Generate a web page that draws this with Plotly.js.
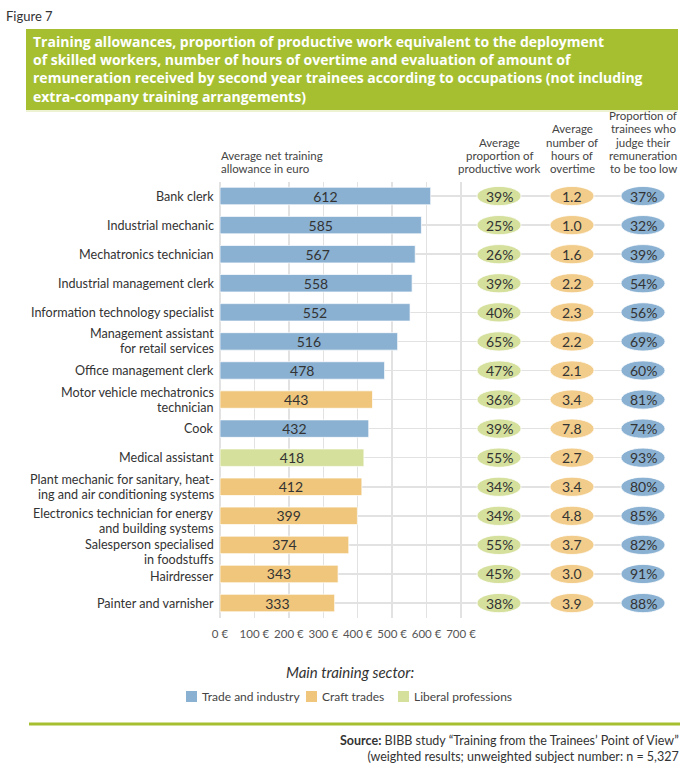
<!DOCTYPE html>
<html>
<head>
<meta charset="utf-8">
<script src="https://cdn.plot.ly/plotly-3.0.1.min.js"></script>
<style>html,body{margin:0;padding:0;background:#fff;}#chart{width:700px;height:774px;}</style>
</head>
<body>
<div id="chart"></div>
<script>
// ---- Data ----
const categories = [
  "Bank clerk",
  "Industrial mechanic",
  "Mechatronics technician",
  "Industrial management clerk",
  "Information technology specialist",
  "Management assistant<br>for retail services",
  "Office management clerk",
  "Motor vehicle mechatronics<br>technician",
  "Cook",
  "Medical assistant",
  "Plant mechanic for sanitary, heat-<br>ing and air conditioning systems",
  "Electronics technician for energy<br>and building systems",
  "Salesperson specialised<br>in foodstuffs",
  "Hairdresser",
  "Painter and varnisher"
];
const allowance = [612, 585, 567, 558, 552, 516, 478, 443, 432, 418, 412, 399, 374, 343, 333];
const sector = ["Trade and industry","Trade and industry","Trade and industry","Trade and industry","Trade and industry","Trade and industry","Trade and industry","Craft trades","Trade and industry","Liberal professions","Craft trades","Craft trades","Craft trades","Craft trades","Craft trades"];
const productiveWork = [39, 25, 26, 39, 40, 65, 47, 36, 39, 55, 34, 34, 55, 45, 38];
const overtimeHours = [1.2, 1.0, 1.6, 2.2, 2.3, 2.2, 2.1, 3.4, 7.8, 2.7, 3.4, 4.8, 3.7, 3.0, 3.9];
const tooLowShare = [37, 32, 39, 54, 56, 69, 60, 81, 74, 93, 80, 85, 82, 91, 88];
const sectors = ["Trade and industry", "Craft trades", "Liberal professions"];
const xTicks = [0, 100, 200, 300, 400, 500, 600, 700];
const titleText = "Training allowances, proportion of productive work equivalent to the deployment<br>of skilled workers, number of hours of overtime and evaluation of amount of<br>remuneration received by second year trainees according to occupations (not including<br>extra-company training arrangements)";

// ---- Styles ----
const W = 700, H = 774;
const FONT = "Lato, 'Open Sans', sans-serif";
const TFONT = "'Open Sans', Lato, sans-serif";
const sectorColors = {"Trade and industry": "#8AB1D2", "Craft trades": "#EFC67B", "Liberal professions": "#D4E09C"};
const colColors = ["#D4E09C", "#F2CC8A", "#8AB1D2"];
const px = x => x / W;
const py = y => 1 - y / H;
// vertical pixel offset of the first label line relative to the row centre (default = centred)
const labelFirstLineShift = {11: -2, 12: 0, 13: 3};

const x0px = 220, x700px = 461, xEndPx = 625;
const xMax = 700 * (xEndPx - x0px) / (x700px - x0px);

const traces = sectors.map(s => {
  const ys = [], xs = [];
  categories.forEach((c, i) => { if (sector[i] === s) { ys.push(c); xs.push(allowance[i]); } });
  return {
    type: "bar", orientation: "h", name: s, x: xs, y: ys,
    width: 0.6,
    marker: {color: sectorColors[s], line: {color: "rgba(255,255,255,0.7)", width: 1}},
    text: xs.map(String), textposition: "inside", insidetextanchor: "middle",
    textfont: {family: FONT, size: 14, color: "#333"},
    constraintext: "none", hoverinfo: "skip", showlegend: false
  };
});

const shapes = [];
const annotations = [];

// title box
shapes.push({type: "rect", xref: "paper", yref: "paper", x0: px(26), x1: px(678), y0: py(110), y1: py(29), fillcolor: "#A5BF31", line: {width: 0}, layer: "below"});
shapes.push({type: "line", xref: "paper", yref: "paper", x0: px(26), x1: px(678), y0: py(111), y1: py(111), line: {color: "#DCE6A8", width: 1}});
// bottom green rule
shapes.push({type: "line", xref: "paper", yref: "paper", x0: px(29), x1: px(680), y0: py(724), y1: py(724), line: {color: "#A5BF31", width: 3}});

annotations.push({xref: "paper", yref: "paper", x: px(4), y: py(16), xanchor: "left", yanchor: "middle", showarrow: false, text: "Figure 7", font: {family: FONT, size: 13, color: "#333"}});
annotations.push({xref: "paper", yref: "paper", x: px(31), y: py(69), xanchor: "left", yanchor: "middle", align: "left", showarrow: false, text: "<b>" + titleText + "</b>", font: {family: TFONT, size: 14, color: "#fff"}});

// column headers (line by line)
const headers = [
  {x: 219, anchor: "left", lines: ["Average net training", "allowance in euro"]},
  {x: 499, anchor: "center", lines: ["Average", "proportion of", "productive work"]},
  {x: 572, anchor: "center", lines: ["Average", "number of", "hours of", "overtime"]},
  {x: 643, anchor: "center", lines: ["Proportion of", "trainees who", "judge their", "remuneration", "to be too low"]}
];
const headerLH = 13.4;
headers.forEach(h => {
  const n = h.lines.length;
  h.lines.forEach((t, k) => {
    annotations.push({xref: "paper", yref: "paper", x: px(h.x), y: py(169 - (n - 1 - k) * headerLH), xanchor: h.anchor, yanchor: "middle", showarrow: false, text: t, font: {family: FONT, size: 11.5, color: "#444"}});
  });
});

// category labels (line by line)
categories.forEach((c, i) => {
  const lines = c.split("<br>");
  const lh = 15;
  const first = (labelFirstLineShift[i] !== undefined) ? labelFirstLineShift[i] : -(lines.length - 1) * lh / 2;
  lines.forEach((t, k) => {
    annotations.push({xref: "paper", yref: "y", x: px(216), y: c, xanchor: "right", yanchor: "middle", yshift: -(first + k * lh), showarrow: false, text: t, font: {family: FONT, size: 12.6, color: "#333"}});
  });
});

// ellipse columns
const colX = [499, 572, 643];
const colVals = [productiveWork.map(v => v + "%"), overtimeHours.map(v => v.toFixed(1)), tooLowShare.map(v => v + "%")];
categories.forEach((c, i) => {
  colX.forEach((cx, j) => {
    shapes.push({type: "circle", xref: "paper", yref: "y", x0: px(cx - 22), x1: px(cx + 22), y0: i - 0.33, y1: i + 0.33, fillcolor: colColors[j], line: {color: "rgba(255,255,255,0.8)", width: 1}});
    annotations.push({xref: "paper", yref: "y", x: px(cx), y: c, xanchor: "center", yanchor: "middle", showarrow: false, text: colVals[j][i], font: {family: FONT, size: 14, color: "#333"}});
  });
});

// legend (manual)
annotations.push({xref: "paper", yref: "paper", x: px(350), y: py(672), xanchor: "center", yanchor: "middle", showarrow: false, text: "<i>Main training sector:</i>", font: {family: FONT, size: 15, color: "#333"}});
const legendX = [186, 306, 398];
sectors.forEach((s, k) => {
  shapes.push({type: "rect", xref: "paper", yref: "paper", x0: px(legendX[k]), x1: px(legendX[k] + 11), y0: py(702), y1: py(691), fillcolor: sectorColors[s], line: {width: 0}});
  annotations.push({xref: "paper", yref: "paper", x: px(legendX[k] + 14), y: py(696.5), xanchor: "left", yanchor: "middle", showarrow: false, text: s, font: {family: FONT, size: 12, color: "#444"}});
});

annotations.push({xref: "paper", yref: "paper", x: px(681), y: py(748), xanchor: "right", yanchor: "middle", align: "right", showarrow: false, text: "<b>Source:</b> BIBB study \u201cTraining from the Trainees\u2019 Point of View\u201d<br>(weighted results; unweighted subject number: n = 5,327", font: {family: FONT, size: 12.5, color: "#333"}});

const layout = {
  width: W, height: H,
  margin: {l: 0, r: 0, t: 0, b: 0},
  paper_bgcolor: "#fff", plot_bgcolor: "rgba(0,0,0,0)",
  barmode: "overlay",
  showlegend: false,
  xaxis: {
    domain: [px(x0px), px(xEndPx)], range: [0, xMax],
    tickmode: "array", tickvals: xTicks, ticktext: xTicks.map(v => v + " \u20ac"),
    showgrid: true, gridcolor: "#E2E2E2", gridwidth: 1.5, zeroline: true, zerolinecolor: "#E2E2E2", zerolinewidth: 1.5,
    showline: false, ticks: "", tickfont: {family: FONT, size: 11.5, color: "#555"}, ticklabelstandoff: 8, fixedrange: true
  },
  yaxis: {
    domain: [py(617.6), py(181.5)],
    type: "category", categoryorder: "array", categoryarray: categories, autorange: "reversed",
    showgrid: true, gridcolor: "#E2E2E2", gridwidth: 1.5, zeroline: false, showline: false, ticks: "",
    showticklabels: false, fixedrange: true
  },
  shapes: shapes,
  annotations: annotations,
  hovermode: false
};

Plotly.newPlot("chart", traces, layout, {displayModeBar: false, staticPlot: true});
</script>
</body>
</html>
